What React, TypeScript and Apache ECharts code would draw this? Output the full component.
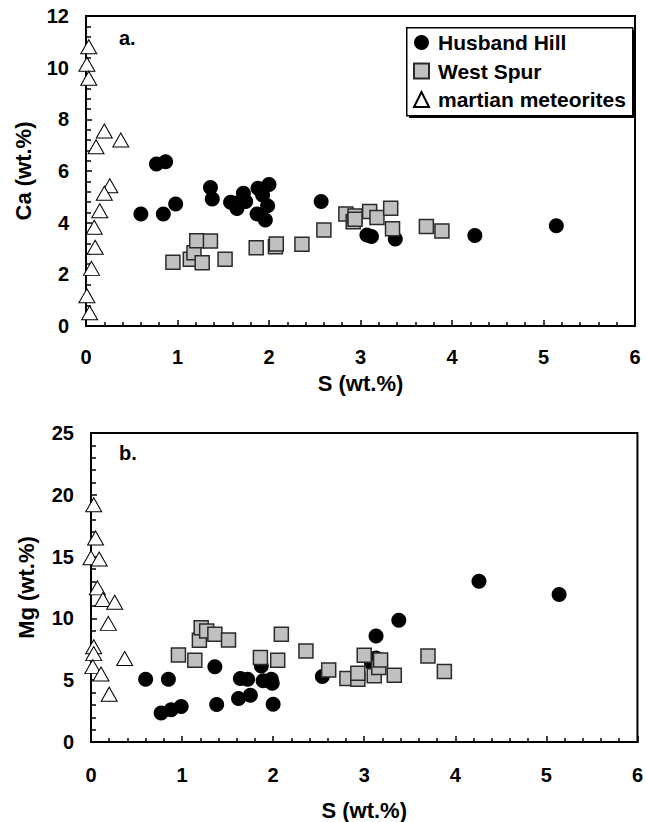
import React, { useEffect, useRef } from "react";
import * as echarts from "echarts";

// Panel a: Ca vs S
const hhTopS = [0.60, 0.77, 0.845, 0.87, 0.98, 1.36, 1.38, 1.58, 1.63, 1.65, 1.72, 1.745, 1.88, 1.87, 1.93, 1.96, 1.985, 2.00, 2.57, 3.07, 3.12, 3.38, 4.25, 5.14];
const hhTopCa = [4.34, 6.27, 4.34, 6.36, 4.72, 5.36, 4.92, 4.79, 4.75, 4.55, 5.14, 4.82, 5.33, 4.34, 5.07, 4.10, 4.65, 5.48, 4.82, 3.52, 3.46, 3.37, 3.50, 3.88];
const wsTopS = [0.95, 1.14, 1.18, 1.21, 1.27, 1.36, 1.52, 1.86, 2.07, 2.08, 2.36, 2.60, 2.84, 2.92, 2.94, 2.94, 3.10, 3.18, 3.33, 3.35, 3.72, 3.89];
const wsTopCa = [2.47, 2.58, 2.84, 3.30, 2.45, 3.29, 2.58, 3.03, 3.07, 3.17, 3.16, 3.72, 4.34, 4.04, 4.26, 4.13, 4.43, 4.20, 4.56, 3.76, 3.85, 3.68];
const mmTopS = [0.03, 0.01, 0.03, 0.20, 0.11, 0.38, 0.26, 0.20, 0.15, 0.09, 0.10, 0.06, 0.01, 0.04];
const mmTopCa = [10.81, 10.13, 9.59, 7.55, 6.94, 7.20, 5.43, 5.14, 4.46, 3.82, 3.05, 2.23, 1.17, 0.51];

// Panel b: Mg vs S
const hhBotS = [0.60, 0.77, 0.85, 0.88, 0.99, 1.36, 1.38, 1.62, 1.64, 1.72, 1.75, 1.87, 1.89, 1.98, 1.99, 2.00, 2.54, 3.08, 3.13, 3.13, 3.38, 4.26, 5.14];
const hhBotMg = [5.08, 2.34, 5.08, 2.61, 2.88, 6.08, 3.04, 3.52, 5.14, 5.08, 3.79, 6.15, 4.95, 5.08, 4.76, 3.06, 5.30, 6.40, 6.80, 8.57, 9.86, 13.0, 11.94];
const wsBotS = [0.96, 1.14, 1.19, 1.21, 1.27, 1.36, 1.51, 1.86, 2.05, 2.09, 2.36, 2.61, 2.81, 2.93, 2.93, 3.00, 3.11, 3.16, 3.18, 3.33, 3.70, 3.88];
const wsBotMg = [7.04, 6.61, 8.23, 9.25, 8.98, 8.71, 8.25, 6.83, 6.61, 8.71, 7.36, 5.83, 5.14, 5.08, 5.56, 7.02, 5.35, 6.02, 6.64, 5.40, 6.96, 5.70];
const mmBotS = [0.03, 0.05, 0.00, 0.09, 0.07, 0.13, 0.26, 0.19, 0.03, 0.03, 0.02, 0.37, 0.11, 0.20];
const mmBotMg = [19.19, 16.5, 14.9, 14.8, 12.47, 11.53, 11.31, 9.6, 7.7, 7.15, 6.1, 6.75, 5.5, 3.87];

const seriesNames = ["Husband Hill", "West Spur", "martian meteorites"];
const xTickLabels = ["0", "1", "2", "3", "4", "5", "6"];

const FONT = "'Liberation Sans', Arial, Helvetica, sans-serif";

const zip = (xs: number[], ys: number[]) => xs.map((x, i) => [x, ys[i]]);

export default function App() {
  const ref = useRef<HTMLDivElement>(null);
  useEffect(() => {
    if (!ref.current) return;
    const chart = echarts.init(ref.current, undefined, { renderer: "svg" });

    const xAxisBase = (gridIndex: number, labelMargin: number, nameGap: number) => ({
      type: "value",
      gridIndex,
      min: 0,
      max: 6,
      interval: 1,
      name: "S (wt.%)",
      nameLocation: "middle",
      nameGap,
      nameTextStyle: { fontSize: 22, fontWeight: "bold", color: "#000", fontFamily: FONT },
      axisLine: { show: true, onZero: false, lineStyle: { color: "#000", width: 2 } },
      axisTick: { show: true, inside: true, length: 6, lineStyle: { color: "#000", width: 1.5 } },
      minorTick: { show: true, splitNumber: 5, length: 4, lineStyle: { color: "#000", width: 1.5 } },
      splitLine: { show: false },
      axisLabel: {
        fontSize: 20,
        fontWeight: "bold",
        color: "#000",
        fontFamily: FONT,
        margin: labelMargin,
        formatter: (v: number) => xTickLabels[Math.round(v)] ?? String(v),
      },
    });

    const yAxisBase = (gridIndex: number, name: string, max: number, interval: number, nameGap: number) => ({
      type: "value",
      gridIndex,
      min: 0,
      max,
      interval,
      name,
      nameLocation: "middle",
      nameGap,
      nameTextStyle: { fontSize: 22, fontWeight: "bold", color: "#000", fontFamily: FONT },
      axisLine: { show: true, onZero: false, lineStyle: { color: "#000", width: 2 } },
      axisTick: { show: true, inside: true, length: 6, lineStyle: { color: "#000", width: 1.5 } },
      minorTick: { show: true, splitNumber: 5, length: 5, lineStyle: { color: "#000", width: 1.5 } },
      splitLine: { show: false },
      axisLabel: { fontSize: 20, fontWeight: "bold", color: "#000", fontFamily: FONT, margin: 17 },
    });

    const circleStyle = { color: "#000", borderColor: "#000", borderWidth: 0, opacity: 1 };
    const squareStyle = { color: "#c0c0c0", borderColor: "#2a2a2a", borderWidth: 1.5, opacity: 1 };
    const triStyle = { color: "#fff", borderColor: "#000", borderWidth: 1, opacity: 1 };

    const mk = (name: string, idx: number, data: number[][], symbol: string, size: any, style: any, z: number) => ({
      name,
      type: "scatter",
      xAxisIndex: idx,
      yAxisIndex: idx,
      data,
      symbol,
      symbolSize: size,
      itemStyle: style,
      clip: false,
      z,
      emphasis: { disabled: true },
    });

    const option = {
      animation: false,
      textStyle: { fontFamily: FONT },
      grid: [
        { left: 86, top: 16, width: 549, height: 310, show: true, borderColor: "#000", borderWidth: 2, backgroundColor: "transparent" },
        { left: 91, top: 433, width: 548, height: 310, show: true, borderColor: "#000", borderWidth: 2, backgroundColor: "transparent" },
      ],
      xAxis: [xAxisBase(0, 21, 46), xAxisBase(1, 23, 57)],
      yAxis: [yAxisBase(0, "Ca (wt.%)", 12, 2, 52), yAxisBase(1, "Mg (wt.%)", 25, 5, 54)],
      legend: {
        data: seriesNames,
        orient: "vertical",
        left: 413,
        top: 32,
        itemWidth: 15,
        itemHeight: 15,
        itemGap: 7.5,
        padding: 0,
        selectedMode: false,
        textStyle: { fontSize: 21, fontWeight: "bold", color: "#000", fontFamily: FONT, padding: [0, 0, 0, 4] },
        z: 10,
      },
      graphic: [
        { type: "rect", left: 409, top: 30, shape: { width: 226, height: 88 }, style: { fill: "#000" }, z: 5 },
        { type: "rect", left: 406, top: 27, shape: { width: 226, height: 88 }, style: { fill: "#fff", stroke: "#000", lineWidth: 1.5 }, z: 6 },
        { type: "text", left: 119, top: 28, style: { text: "a.", fontSize: 20, fontWeight: "bold", fill: "#000", fontFamily: FONT }, z: 6 },
        { type: "text", left: 119, top: 443, style: { text: "b.", fontSize: 20, fontWeight: "bold", fill: "#000", fontFamily: FONT }, z: 6 },
      ],
      series: [
        mk(seriesNames[0], 0, zip(hhTopS, hhTopCa), "circle", 15, circleStyle, 2),
        mk(seriesNames[1], 0, zip(wsTopS, wsTopCa), "rect", 14, squareStyle, 3),
        mk(seriesNames[2], 0, zip(mmTopS, mmTopCa), "triangle", [16, 14], triStyle, 4),
        mk(seriesNames[0], 1, zip(hhBotS, hhBotMg), "circle", 15, circleStyle, 2),
        mk(seriesNames[1], 1, zip(wsBotS, wsBotMg), "rect", 14, squareStyle, 3),
        mk(seriesNames[2], 1, zip(mmBotS, mmBotMg), "triangle", [16, 14], triStyle, 4),
      ],
    };

    chart.setOption(option as any);
    return () => chart.dispose();
  }, []);

  return (
    <div
      ref={ref}
      style={{ position: "absolute", left: 0, top: 0, width: 646, height: 822, background: "#fff" }}
    />
  );
}
